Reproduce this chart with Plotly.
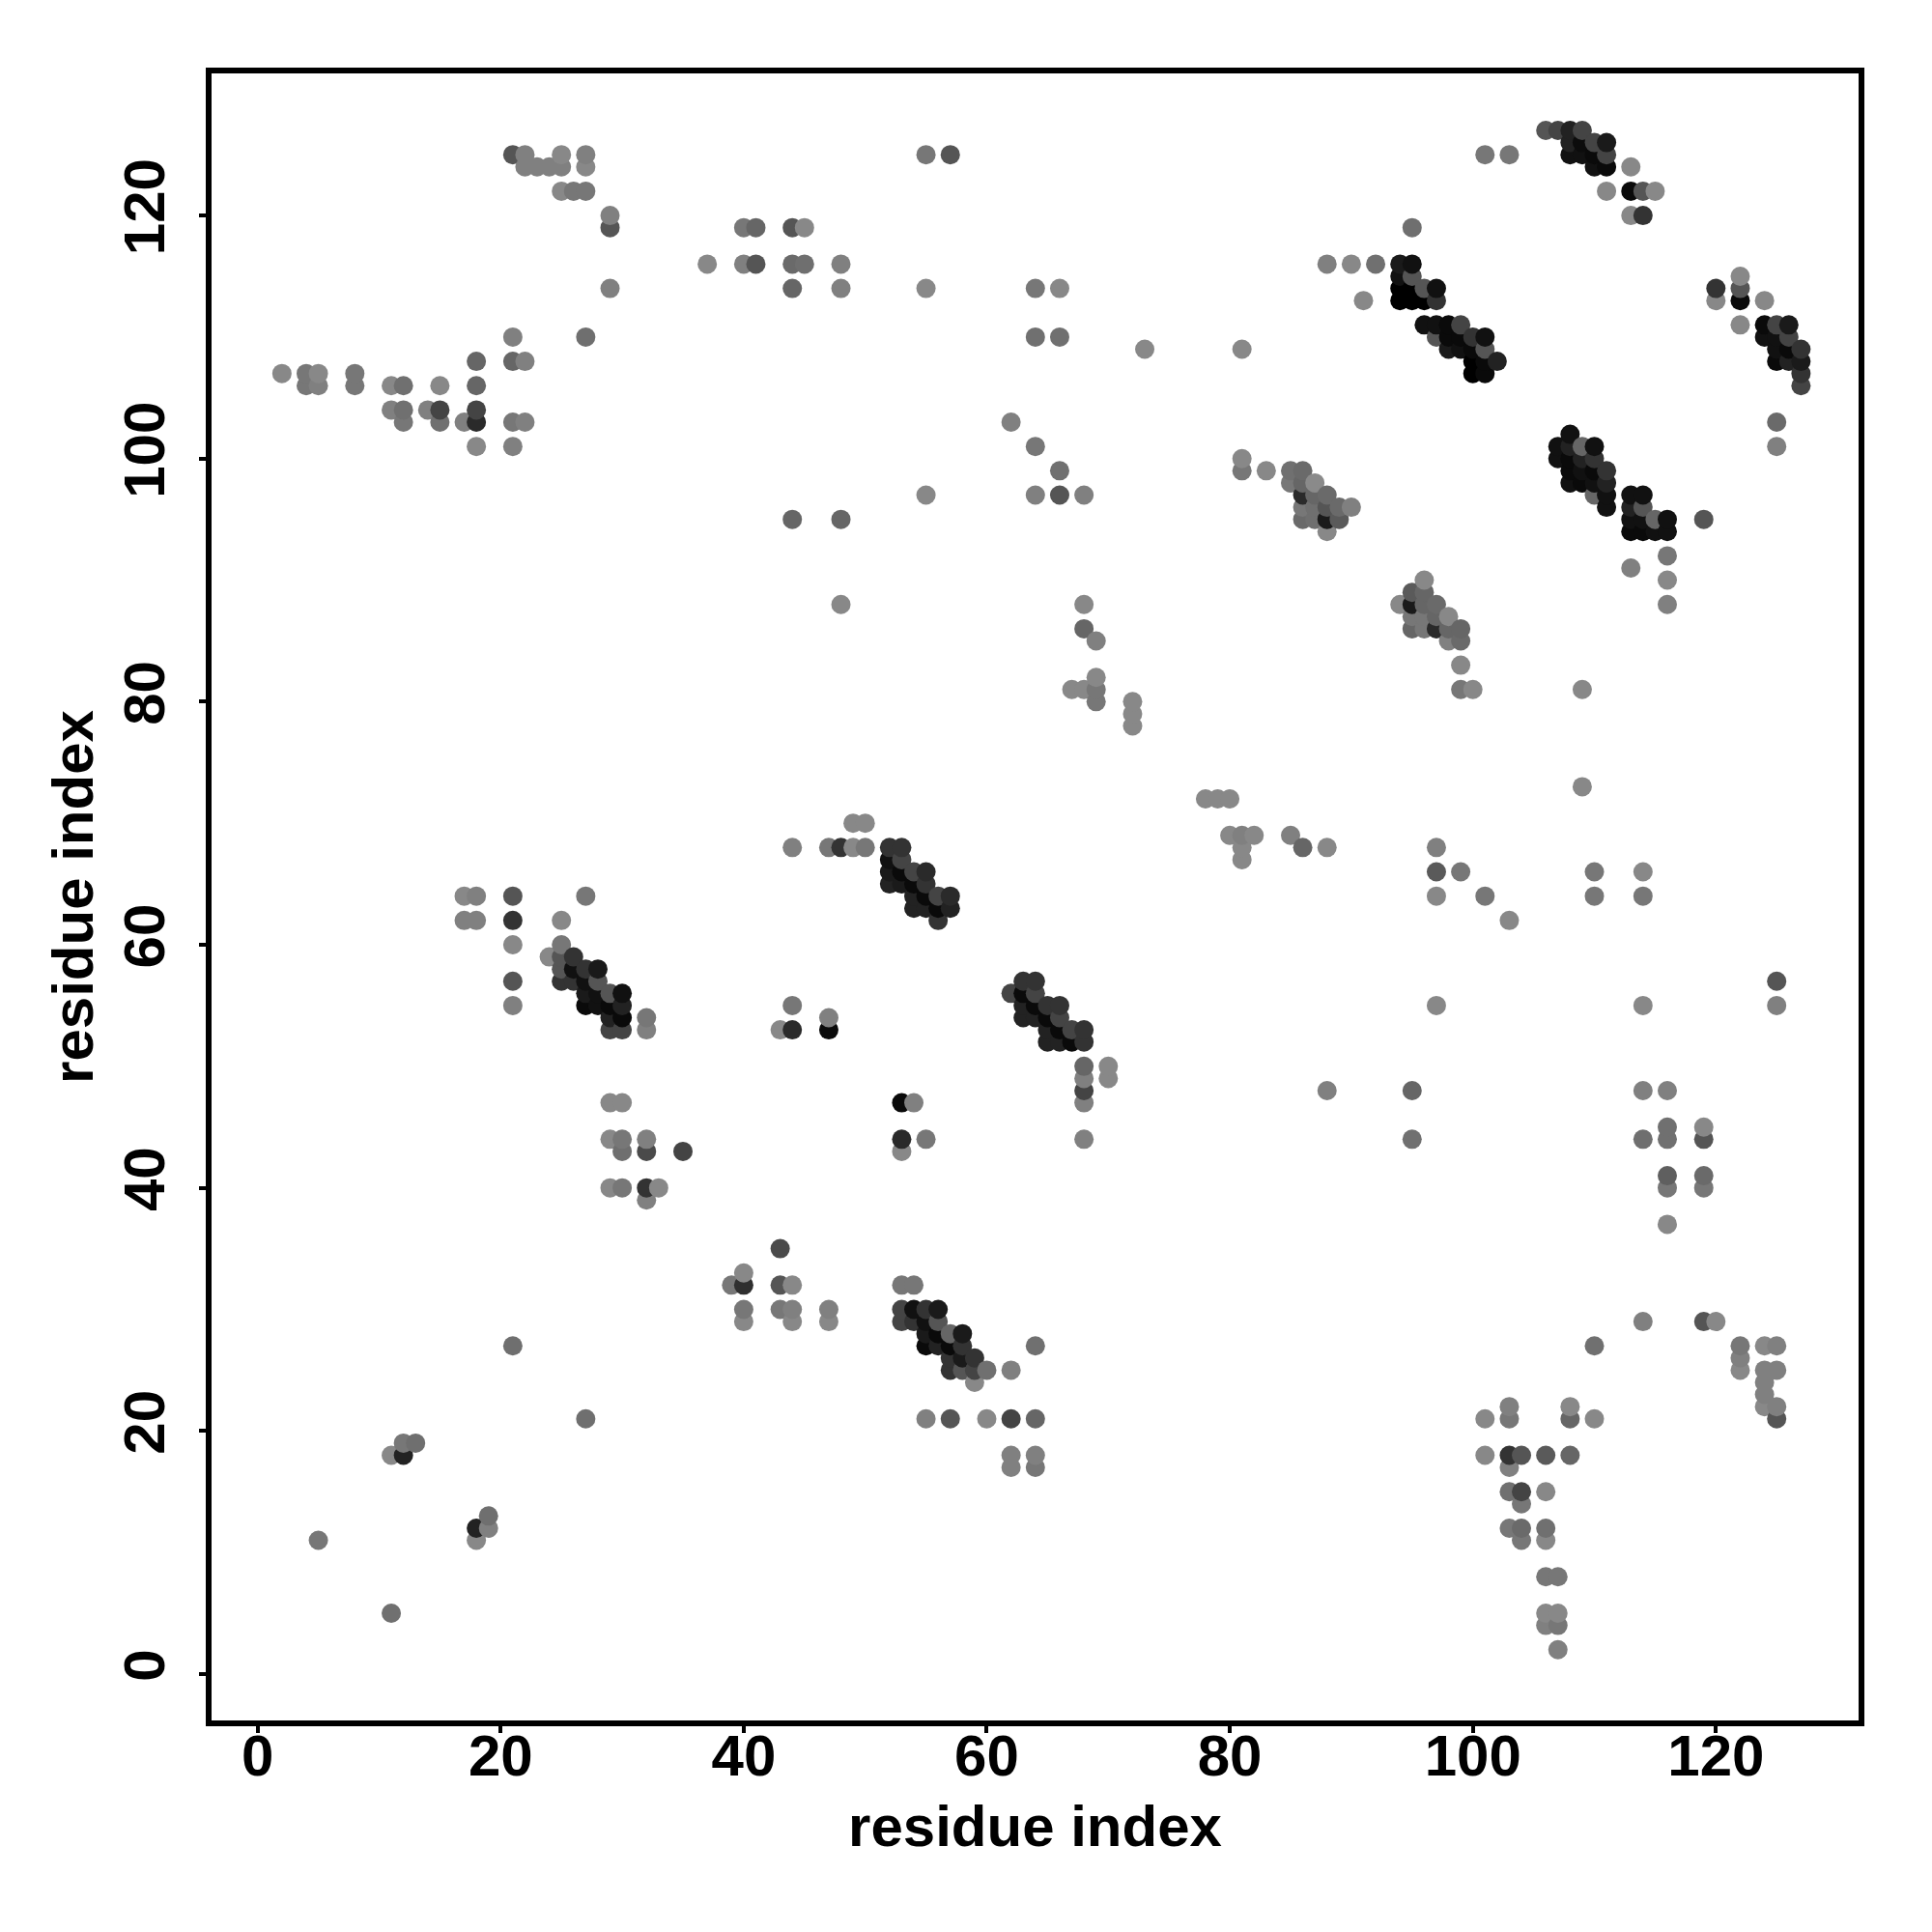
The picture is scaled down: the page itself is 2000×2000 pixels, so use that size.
import plotly.graph_objects as go

contact_x = [
 106,107,108,109,
 108,109,110,111,
 21,22,25,27,55,57,101,103,108,109,110,111,
 22,23,24,25,27,110,111,113,
 25,26,27,111,113,114,115,
 29,113,114,
 29,40,41,44,45,95,
 37,40,41,44,45,48,88,90,92,94,95,
 94,95,122,
 29,44,48,55,64,66,94,95,96,97,120,122,
 91,94,95,96,97,120,122,124,
 96,97,98,99,122,124,125,126,
 21,27,64,66,97,98,99,100,101,124,125,126,
 73,81,98,99,100,101,125,126,127,
 18,21,22,100,101,102,125,126,127,
 2,4,5,8,100,101,127,
 4,5,8,11,12,15,18,127,
 11,12,14,15,18,
 12,15,17,18,21,22,62,125,
 108,
 18,21,64,107,108,109,110,125,
 81,107,108,109,110,
 66,81,83,85,86,108,109,110,111,
 85,86,87,108,109,110,111,
 55,64,66,68,86,87,88,110,111,113,114,
 86,87,88,89,90,111,113,114,
 44,48,86,87,88,89,113,114,115,116,119,
 88,113,114,115,116,
 116,113,96,116,
 95,96,
 48,68,94,95,96,97,116,
 95,96,97,98,
 68,95,96,97,98,99,
 69,98,99,
 99,69,
 67,68,69,99,100,109,
 69,72,72,72,
 109,
 78,79,80,
 49,50,
 80,81,82,85,
 44,47,48,49,50,52,53,81,86,88,97,
 52,53,81,
 52,53,54,55,97,99,110,114,
 52,53,54,55,
 17,18,21,27,54,55,56,57,97,101,110,114,
 54,55,56,57,
 17,18,21,25,56,103,
 21,25,
 24,25,26,
 25,26,27,28,
 21,25,26,27,28,63,64,125,
 27,28,29,30,62,63,64,
 21,27,28,29,30,44,63,64,65,66,97,114,125,
 29,30,32,47,63,64,65,66,
 29,30,32,43,44,47,65,66,67,68,
 65,66,67,68,
 68,70,
 68,70,
 68,88,95,114,116,
 29,30,53,54,68,
 116,119,
 29,30,32,53,55,68,95,114,116,119,
 30,32,35,53,
 116,119,
 29,30,32,33,116,119,
 32,
 116,
 43,
 40,
 39,40,43,44,53,54,
 40,43,44,47,53,54,55,56,
 40,44,47,53,54,55,56,114,119,120,
 55,56,57,58,
 21,55,56,57,58,64,110,122,124,125,
 57,58,59,122,
 57,58,59,60,62,122,124,125,
 59,124,
 124,
 103,108,124,125,
 27,55,57,60,62,64,101,103,108,110,125,
 12,13,
 11,12,62,64,101,103,104,106,108,
 62,64,103,
 103,104,106,
 104,
 19,
 18,19,103,104,106,
 5,18,104,106,
 106,107,
 11,106,107,
 106,107,
 107,
]

contact_y = [
 127,127,127,127,
 126,126,126,126,
 125,125,125,125,125,125,125,125,125,125,125,125,
 124,124,124,124,124,124,124,124,
 122,122,122,122,122,122,122,
 120,120,120,
 119,119,119,119,119,119,
 116,116,116,116,116,116,116,116,116,116,116,
 115,115,115,
 114,114,114,114,114,114,114,114,114,114,114,114,
 113,113,113,113,113,113,113,113,
 111,111,111,111,111,111,111,111,
 110,110,110,110,110,110,110,110,110,110,110,110,
 109,109,109,109,109,109,109,109,109,
 108,108,108,108,108,108,108,108,108,
 107,107,107,107,107,107,107,
 106,106,106,106,106,106,106,106,
 104,104,104,104,104,
 103,103,103,103,103,103,103,103,
 102,
 101,101,101,101,101,101,101,101,
 100,100,100,100,100,
 99,99,99,99,99,99,99,99,99,
 98,98,98,98,98,98,98,
 97,97,97,97,97,97,97,97,97,97,97,
 96,96,96,96,96,96,96,96,
 95,95,95,95,95,95,95,95,95,95,95,
 94,94,94,94,94,
 92,91,90,90,
 89,89,
 88,88,88,88,88,88,88,
 87,87,87,87,
 86,86,86,86,86,86,
 85,85,85,
 83,82,
 81,81,81,81,81,81,
 80,80,79,78,
 73,
 72,72,72,
 70,70,
 69,69,69,69,
 68,68,68,68,68,68,68,68,68,68,68,
 67,67,67,
 66,66,66,66,66,66,66,66,
 65,65,65,65,
 64,64,64,64,64,64,64,64,64,64,64,64,
 63,63,63,63,
 62,62,62,62,62,62,
 60,60,
 59,59,59,
 58,58,58,58,
 57,57,57,57,57,57,57,57,
 56,56,56,56,56,56,56,
 55,55,55,55,55,55,55,55,55,55,55,55,55,
 54,54,54,54,54,54,54,54,
 53,53,53,53,53,53,53,53,53,53,
 52,52,52,52,
 50,50,
 49,49,
 48,48,48,48,48,
 47,47,47,47,47,
 45,45,
 44,44,44,44,44,44,44,44,44,44,
 43,43,43,43,
 41,41,
 40,40,40,40,40,40,
 39,
 37,
 35,
 33,
 32,32,32,32,32,32,
 30,30,30,30,30,30,30,30,
 29,29,29,29,29,29,29,29,29,29,
 28,28,28,28,
 27,27,27,27,27,27,27,27,27,27,
 26,26,26,26,
 25,25,25,25,25,25,25,25,
 24,24,
 23,
 22,22,22,22,
 21,21,21,21,21,21,21,21,21,21,21,
 19,19,
 18,18,18,18,18,18,18,18,18,
 17,17,17,
 15,15,15,
 14,
 13,
 12,12,12,12,12,
 11,11,11,11,
 8,8,
 5,5,5,
 4,4,
 2,
]

contact_gray = [
 0x55,0x44,0x22,0x44,
 0x22,0x0c,0x44,0x1a,
 0x55,0x80,0x88,0x80,0x77,0x55,0x77,0x77,0x11,0x11,0x0a,0x44,
 0x80,0x80,0x80,0x80,0x88,0x11,0x0a,0x88,
 0x88,0x77,0x77,0x88,0x0a,0x55,0x88,
 0x80,0x88,0x33,
 0x55,0x77,0x66,0x55,0x88,0x6f,
 0x88,0x80,0x55,0x6a,0x6f,0x80,0x80,0x88,0x70,0x1a,0x11,
 0x11,0x55,0x88,
 0x80,0x66,0x80,0x88,0x77,0x88,0x00,0x00,0x55,0x11,0x33,0x55,
 0x88,0x00,0x00,0x00,0x33,0x88,0x0a,0x88,
 0x11,0x11,0x0a,0x44,0x88,0x0a,0x44,0x1a,
 0x80,0x6f,0x70,0x70,0x55,0x0a,0x0a,0x33,0x11,0x11,0x11,0x44,
 0x88,0x88,0x1a,0x11,0x0a,0x55,0x11,0x0a,0x33,
 0x66,0x66,0x80,0x00,0x0a,0x22,0x0a,0x22,0x1a,
 0x88,0x77,0x88,0x77,0x00,0x0a,0x33,
 0x77,0x80,0x77,0x88,0x70,0x88,0x66,0x44,
 0x80,0x70,0x80,0x44,0x44,
 0x77,0x70,0x80,0x2a,0x77,0x80,0x80,0x6a,
 0x11,
 0x88,0x80,0x77,0x11,0x22,0x66,0x11,0x80,
 0x88,0x11,0x0a,0x22,0x33,
 0x70,0x77,0x88,0x70,0x6a,0x0a,0x11,0x0a,0x33,
 0x77,0x66,0x8a,0x11,0x0a,0x11,0x22,
 0x88,0x80,0x55,0x80,0x2a,0x66,0x6a,0x66,0x11,0x11,0x11,
 0x77,0x6f,0x55,0x6a,0x80,0x11,0x22,0x55,
 0x66,0x66,0x6a,0x6f,0x1a,0x5a,0x11,0x11,0x66,0x11,0x55,
 0x88,0x0a,0x0a,0x11,0x11,
 0x77,0x80,0x88,0x88,
 0x5a,0x66,
 0x88,0x88,0x88,0x1a,0x66,0x6a,0x80,
 0x77,0x77,0x66,0x88,
 0x66,0x66,0x77,0x2a,0x66,0x66,
 0x80,0x80,0x6a,
 0x88,0x88,
 0x88,0x88,0x77,0x77,0x88,0x88,
 0x77,0x88,0x88,0x88,
 0x88,
 0x88,0x88,0x88,
 0x88,0x88,
 0x88,0x80,0x88,0x80,
 0x80,0x77,0x33,0x88,0x77,0x33,0x33,0x88,0x66,0x88,0x80,
 0x11,0x44,0x88,
 0x1a,0x0a,0x44,0x2a,0x5a,0x77,0x77,0x88,
 0x22,0x1a,0x0a,0x33,
 0x88,0x80,0x55,0x77,0x22,0x0a,0x44,0x2a,0x88,0x77,0x77,0x77,
 0x22,0x22,0x0a,0x22,
 0x80,0x80,0x33,0x88,0x33,0x88,
 0x88,0x77,
 0x88,0x55,0x33,
 0x55,0x11,0x33,0x1a,
 0x55,0x33,0x33,0x11,0x55,0x33,0x33,0x55,
 0x1a,0x11,0x55,0x11,0x44,0x0a,0x44,
 0x80,0x0a,0x11,0x0a,0x22,0x77,0x22,0x0a,0x33,0x33,0x88,0x88,0x80,
 0x22,0x0a,0x77,0x80,0x22,0x22,0x0a,0x44,
 0x44,0x44,0x80,0x88,0x2a,0x0a,0x22,0x0a,0x44,0x33,
 0x22,0x22,0x0a,0x33,
 0x66,0x88,
 0x80,0x88,
 0x44,0x80,0x66,0x80,0x80,
 0x88,0x88,0x0a,0x80,0x80,
 0x70,0x88,
 0x88,0x77,0x80,0x2a,0x77,0x80,0x70,0x6f,0x70,0x55,
 0x6f,0x4a,0x44,0x88,
 0x5f,0x6a,
 0x88,0x77,0x33,0x88,0x77,0x77,
 0x80,
 0x88,
 0x4a,
 0x88,
 0x77,0x2f,0x55,0x88,0x77,0x77,
 0x77,0x77,0x80,0x80,0x44,0x11,0x33,0x1a,
 0x88,0x88,0x88,0x44,0x33,0x11,0x55,0x80,0x55,0x88,
 0x1a,0x0a,0x66,0x1a,
 0x6f,0x0a,0x22,0x0a,0x33,0x70,0x70,0x77,0x88,0x80,
 0x33,0x1a,0x33,0x80,
 0x33,0x55,0x44,0x70,0x80,0x88,0x80,0x80,
 0x88,0x80,
 0x80,
 0x80,0x88,0x88,0x80,
 0x6f,0x80,0x55,0x88,0x44,0x66,0x88,0x77,0x66,0x88,0x55,
 0x77,0x6f,
 0x88,0x22,0x80,0x80,0x88,0x33,0x55,0x5a,0x66,
 0x80,0x77,0x80,
 0x70,0x44,0x88,
 0x77,
 0x6f,
 0x22,0x80,0x77,0x6a,0x70,
 0x77,0x88,0x77,0x88,
 0x77,0x77,
 0x70,0x88,0x88,
 0x80,0x77,
 0x80,
]

tick_values = [0, 20, 40, 60, 80, 100, 120]
x_range = [-3.79, 131.74]
y_range = [-3.82, 131.69]
axis_title = "residue index"

assert len(contact_x) == len(contact_y) == len(contact_gray), (len(contact_x), len(contact_y), len(contact_gray))

order = sorted(range(len(contact_x)), key=lambda i: (contact_x[i], contact_y[i]))

fig = go.Figure(go.Scatter(
    x=[contact_x[i] for i in order],
    y=[contact_y[i] for i in order],
    mode="markers",
    marker=dict(
        size=20,
        color=[f"rgb({contact_gray[i]},{contact_gray[i]},{contact_gray[i]})" for i in order],
        line=dict(width=0),
    ),
    hoverinfo="x+y",
))

font = dict(family="Liberation Sans", size=60, color="black", weight="bold")
axis = dict(
    tickmode="array", tickvals=tick_values,
    showgrid=False, zeroline=False, showline=True, mirror=True,
    linecolor="black", linewidth=6,
    ticks="outside", ticklen=7, tickwidth=3.5, tickcolor="black",
    tickfont=font,
)
fig.update_xaxes(**axis, range=x_range, ticklabelstandoff=-28,
                 title=dict(text=axis_title, font=font, standoff=21))
fig.update_yaxes(**axis, range=y_range, tickangle=-90, ticklabelstandoff=12,
                 title=dict(text=axis_title, font=font, standoff=2))
fig.update_layout(
    width=1992, height=1992, autosize=False,
    paper_bgcolor="white", plot_bgcolor="white", showlegend=False,
    margin=dict(l=211, r=76, t=68, b=219.3, pad=0),
)
fig.write_html("out.html")
